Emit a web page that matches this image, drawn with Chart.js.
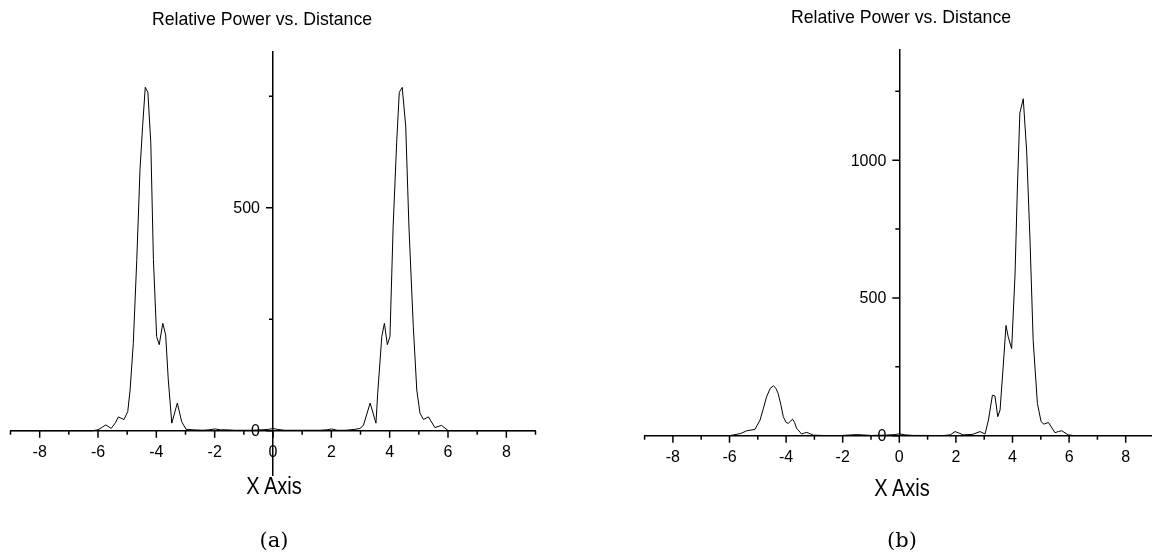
<!DOCTYPE html>
<html>
<head>
<meta charset="utf-8">
<script src="https://cdn.jsdelivr.net/npm/chart.js@4/dist/chart.umd.min.js"></script>
<style>
  html, body { margin: 0; padding: 0; background: #fff; overflow: hidden; }
  body { width: 1152px; height: 560px; position: relative; }
  canvas { position: absolute; top: 0; }
  #chartA { left: 0; }
  #chartB { left: 576px; }
  .lbl { position: absolute; white-space: nowrap; color: #000; transform: translateX(-50%); }
  .title { font: 17.7px "Liberation Sans", Arial, sans-serif; }
  .xtitle { font: 23px "Liberation Sans", Arial, sans-serif; transform: translateX(-50%) scaleX(0.87); }
  .cap { font: 21px "DejaVu Serif", "Liberation Serif", serif; }
</style>
</head>
<body>
<canvas id="chartA" width="576" height="560"></canvas>
<canvas id="chartB" width="600" height="560"></canvas>

<div class="lbl title" style="left:262px; top:9px">Relative Power vs. Distance</div>
<div class="lbl title" style="left:901px; top:7px">Relative Power vs. Distance</div>
<div class="lbl xtitle" style="left:274px; top:473px">X Axis</div>
<div class="lbl xtitle" style="left:902px; top:475px">X Axis</div>
<div class="lbl cap" style="left:274px; top:528px">(a)</div>
<div class="lbl cap" style="left:902px; top:528px">(b)</div>

<script>
// panel (a)
const distA = [-9, -6.2, -6.0, -5.85, -5.73, -5.55, -5.4, -5.30, -5.11, -4.98,
  -4.90, -4.79, -4.67, -4.56, -4.47, -4.38, -4.29, -4.19, -4.10, -3.99,
  -3.90, -3.78, -3.68, -3.59, -3.47, -3.28, -3.13, -2.98, -2.73, -2.4,
  -2.2, -1.99, -1.8, -1.59, -1.3, -1.0, -0.7, -0.4, -0.15, 0.0,
  0.15, 0.4, 0.8, 1.2, 1.61, 1.85, 2.01, 2.2, 2.5, 2.81,
  2.98, 3.10, 3.33, 3.53, 3.59, 3.73, 3.82, 3.92, 4.01, 4.12,
  4.24, 4.33, 4.43, 4.55, 4.66, 4.81, 4.93, 5.04, 5.16, 5.33,
  5.55, 5.78, 6.01, 6.2, 9]
const powerA = [0, 0, 2, 8, 13, 5, 18, 31, 25, 43,
  91, 196, 384, 586, 683, 770, 759, 646, 384, 211,
  193, 241, 215, 114, 17, 62, 20, 3, 2, 1,
  2, 4, 2, 2, 1, 1, 1, 2, 3, 5,
  3, 1, 1, 1, 1, 2, 4, 1, 1, 3,
  5, 12, 62, 17, 84, 211, 241, 193, 211, 459,
  646, 759, 770, 683, 459, 234, 91, 39, 25, 31,
  7, 12, 0, 0, 0]

// panel (b)
const distB = [-9, -6.0, -5.6, -5.39, -5.10, -4.92, -4.80, -4.69, -4.56, -4.45,
  -4.36, -4.28, -4.18, -4.10, -4.00, -3.92, -3.85, -3.77, -3.70, -3.63,
  -3.45, -3.35, -3.27, -3.15, -3.04, -2.5, -2.0, -1.5, -1.0, -0.5,
  -0.15, 0, 0.2, 0.5, 1.0, 1.5, 1.8, 1.97, 2.1, 2.26,
  2.6, 2.85, 3.03, 3.15, 3.29, 3.38, 3.48, 3.56, 3.67, 3.77,
  3.85, 3.97, 4.09, 4.17, 4.26, 4.38, 4.50, 4.62, 4.73, 4.88,
  5.01, 5.11, 5.27, 5.50, 5.62, 5.74, 5.97, 6.2, 9]
const powerB = [0, 0, 8, 18, 23, 57, 100, 141, 172, 181,
  172, 153, 110, 69, 48, 45, 52, 60, 48, 27,
  6, 10, 12, 7, 2, 0, 1, 4, 1, 2,
  4, 7, 3, 1, 1, 0, 3, 15, 10, 3,
  5, 15, 6, 57, 147, 144, 69, 93, 250, 400,
  358, 316, 587, 888, 1171, 1223, 1033, 707, 346, 117,
  51, 42, 48, 11, 15, 18, 3, 0, 0]

// tick values (labelled ones are the majors)
const xTickVals = [-9, -8, -7, -6, -5, -4, -3, -2, -1, 0, 1, 2, 3, 4, 5, 6, 7, 8, 9]
const xLabelVals = [-8, -6, -4, -2, 0, 2, 4, 6, 8]
const yTickValsA = [0, 250, 500, 750]
const yLabelValsA = [0, 500]
const yTickValsB = [0, 250, 500, 750, 1000, 1250]
const yLabelValsB = [0, 500, 1000]

const tickFont = '16px "Liberation Sans", Arial, sans-serif'

// major / minor tick marks and the y labels, placed with the chart's own scales
const tickMarks = {
    id: 'tickMarks',
    afterDraw(chart, args, opts) {
        const ctx = chart.ctx
        const xs = chart.scales.x
        const ys = chart.scales.y
        const x0 = xs.getPixelForValue(0)
        const y0 = ys.getPixelForValue(0)
        ctx.save()
        ctx.strokeStyle = '#000'
        ctx.lineWidth = 1.5
        ctx.beginPath()
        xs.ticks.forEach(t => {
            const px = xs.getPixelForValue(t.value)
            const len = xLabelVals.includes(t.value) ? 7 : 4
            ctx.moveTo(px, y0)
            ctx.lineTo(px, y0 + len)
        })
        ys.ticks.forEach(t => {
            const py = ys.getPixelForValue(t.value)
            const len = opts.yLabels.includes(t.value) ? 7 : 4
            ctx.moveTo(x0, py)
            ctx.lineTo(x0 - len, py)
        })
        ctx.stroke()
        ctx.fillStyle = '#000'
        ctx.font = tickFont
        ctx.textAlign = 'right'
        ctx.textBaseline = 'middle'
        ys.ticks.forEach(t => {
            if (opts.yLabels.includes(t.value)) {
                ctx.fillText(String(t.value), x0 - 13, ys.getPixelForValue(t.value) + 1)
            }
        })
        ctx.restore()
    }
}

function zeroSize(scale) {
    if (scale.isHorizontal()) scale.height = 0
    else scale.width = 0
    scale.paddingLeft = scale.paddingRight = scale.paddingTop = scale.paddingBottom = 0
}

function makeChart(id, dist, power, yMin, yMax, yTicks, yLabels, padding) {
    return new Chart(document.getElementById(id), {
        type: 'line',
        data: {
            datasets: [{
                data: dist.map((d, i) => ({ x: d, y: power[i] })),
                borderColor: '#000',
                borderWidth: 1,
                pointRadius: 0,
                tension: 0,
                fill: false
            }]
        },
        options: {
            responsive: false,
            animation: false,
            events: [],
            layout: { padding },
            plugins: {
                legend: { display: false },
                tooltip: { enabled: false },
                tickMarks: { yLabels }
            },
            scales: {
                x: {
                    type: 'linear',
                    position: { y: 0 },
                    min: -9,
                    max: 9,
                    afterBuildTicks: s => { s.ticks = xTickVals.map(v => ({ value: v })) },
                    afterFit: zeroSize,
                    grid: { display: false, drawTicks: false },
                    border: { display: true, color: '#000', width: 1.5 },
                    ticks: {
                        autoSkip: false,
                        maxRotation: 0,
                        padding: 12,
                        color: '#000',
                        font: { family: '"Liberation Sans", Arial, sans-serif', size: 16 },
                        callback: v => (xLabelVals.includes(v) ? String(v) : '')
                    }
                },
                y: {
                    type: 'linear',
                    position: { x: 0 },
                    min: yMin,
                    max: yMax,
                    afterBuildTicks: s => { s.ticks = yTicks.map(v => ({ value: v })) },
                    afterFit: zeroSize,
                    grid: { display: false, drawTicks: false },
                    border: { display: true, color: '#000', width: 1.5 },
                    ticks: { display: false }
                }
            }
        },
        plugins: [tickMarks]
    })
}

makeChart('chartA', distA, powerA, -100, 850, yTickValsA, yLabelValsA,
    { left: 10.5, right: 40.5, top: 51.7, bottom: 84.7 })
makeChart('chartB', distB, powerB, 0, 1400, yTickValsB, yLabelValsB,
    { left: 68.6, right: 22, top: 50, bottom: 124.3 })
</script>
</body>
</html>
